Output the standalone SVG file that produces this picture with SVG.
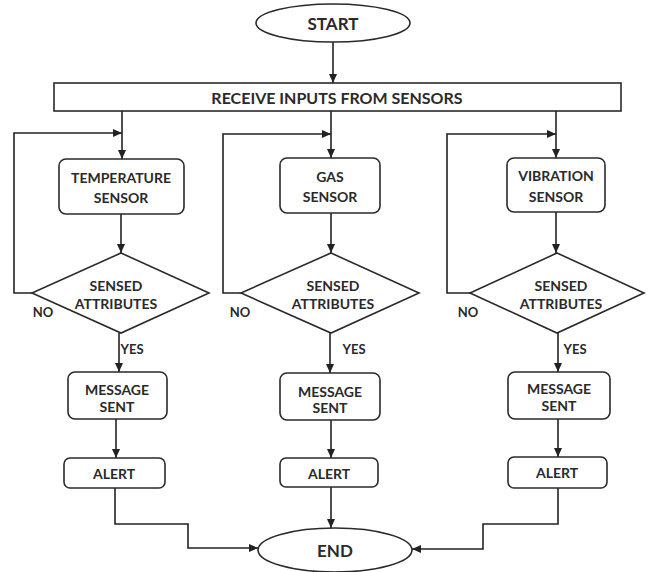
<svg xmlns="http://www.w3.org/2000/svg" width="648" height="572" viewBox="0 0 648 572">
<defs>
<marker id="ah" markerUnits="userSpaceOnUse" markerWidth="9" markerHeight="8" refX="9" refY="4" orient="auto">
<path d="M0,0 L9,4 L0,8 z" fill="#222"/>
</marker>
<style>
.s{fill:#fff;stroke:#2a2a2a;stroke-width:1.6}
.c{fill:none;stroke:#222;stroke-width:1.6}
.a{marker-end:url(#ah)}
text{font-family:Lato,"Liberation Sans",sans-serif;font-weight:700;fill:#2a2a2a;text-anchor:middle;dominant-baseline:central}
.t{font-size:14px}
.b{font-size:17px}
.r{font-size:16px}
.l{font-size:13px}
</style>
</defs>
<rect width="648" height="572" fill="#fff"/>
<g id="connectors">
<path class="c a" d="M333,42 V83"/>
<path class="c a" d="M122,111 V159"/>
<path class="c a" d="M331,111 V158"/>
<path class="c a" d="M556,111 V158"/>
<path class="c a" d="M32,293 H14 V133 H122"/>
<path class="c a" d="M241,293 H223 V134 H331"/>
<path class="c a" d="M470,293 H447 V134 H556"/>
<path class="c a" d="M121,214 V253"/>
<path class="c a" d="M331,213 V253"/>
<path class="c a" d="M556,212 V253"/>
<path class="c a" d="M119,333 V372"/>
<path class="c a" d="M330,333 V373"/>
<path class="c a" d="M558,333 V372"/>
<path class="c a" d="M116,419 V458"/>
<path class="c a" d="M331,420 V458"/>
<path class="c a" d="M558,419 V457"/>
<path class="c a" d="M115,488 V524 H188 V548 H258"/>
<path class="c a" d="M331,487 V528"/>
<path class="c a" d="M558,488 V524 H483 V549 H412"/>
<text class="l" x="43" y="312">NO</text>
<text class="l" x="240" y="312">NO</text>
<text class="l" x="468" y="312">NO</text>
<text class="l" x="132" y="349">YES</text>
<text class="l" x="354" y="349">YES</text>
<text class="l" x="575" y="349">YES</text>
</g>
<g id="start">
<ellipse class="s" cx="333" cy="23" rx="77" ry="19"/>
<text class="b" x="333" y="23">START</text>
</g>
<g id="receive">
<rect class="s" x="54" y="83" width="567" height="28"/>
<text class="r" x="337" y="97">RECEIVE INPUTS FROM SENSORS</text>
</g>
<g id="temp-sensor">
<rect class="s" x="59" y="159" width="125" height="55" rx="7"/>
<text class="t" x="121" y="177">TEMPERATURE</text>
<text class="t" x="121" y="197">SENSOR</text>
</g>
<g id="gas-sensor">
<rect class="s" x="280" y="158" width="100" height="55" rx="7"/>
<text class="t" x="330" y="176">GAS</text>
<text class="t" x="330" y="196">SENSOR</text>
</g>
<g id="vib-sensor">
<rect class="s" x="507" y="158" width="98" height="54" rx="7"/>
<text class="t" x="556" y="175">VIBRATION</text>
<text class="t" x="556" y="196">SENSOR</text>
</g>
<g id="temp-decision">
<polygon class="s" points="121,253 209,293 121,333 32,293"/>
<text class="t" x="116" y="285">SENSED</text>
<text class="t" x="116" y="303">ATTRIBUTES</text>
</g>
<g id="gas-decision">
<polygon class="s" points="331,253 419,293 331,333 241,293"/>
<text class="t" x="333" y="285">SENSED</text>
<text class="t" x="333" y="303">ATTRIBUTES</text>
</g>
<g id="vib-decision">
<polygon class="s" points="557,253 644,293 557,333 470,293"/>
<text class="t" x="561" y="285">SENSED</text>
<text class="t" x="561" y="303">ATTRIBUTES</text>
</g>
<g id="temp-message">
<rect class="s" x="68" y="372" width="99" height="47" rx="7"/>
<text class="t" x="117" y="389">MESSAGE</text>
<text class="t" x="117" y="406">SENT</text>
</g>
<g id="gas-message">
<rect class="s" x="280" y="373" width="100" height="47" rx="7"/>
<text class="t" x="330" y="391">MESSAGE</text>
<text class="t" x="330" y="407">SENT</text>
</g>
<g id="vib-message">
<rect class="s" x="508" y="372" width="102" height="47" rx="7"/>
<text class="t" x="559" y="388">MESSAGE</text>
<text class="t" x="559" y="405">SENT</text>
</g>
<g id="temp-alert">
<rect class="s" x="64" y="458" width="101" height="30" rx="6"/>
<text class="t" x="114" y="473">ALERT</text>
</g>
<g id="gas-alert">
<rect class="s" x="280" y="458" width="98" height="29" rx="6"/>
<text class="t" x="329" y="473">ALERT</text>
</g>
<g id="vib-alert">
<rect class="s" x="508" y="457" width="99" height="31" rx="6"/>
<text class="t" x="557" y="472">ALERT</text>
</g>
<g id="end">
<ellipse class="s" cx="335" cy="550" rx="77" ry="22"/>
<text class="b" x="335" y="550">END</text>
</g>
</svg>
